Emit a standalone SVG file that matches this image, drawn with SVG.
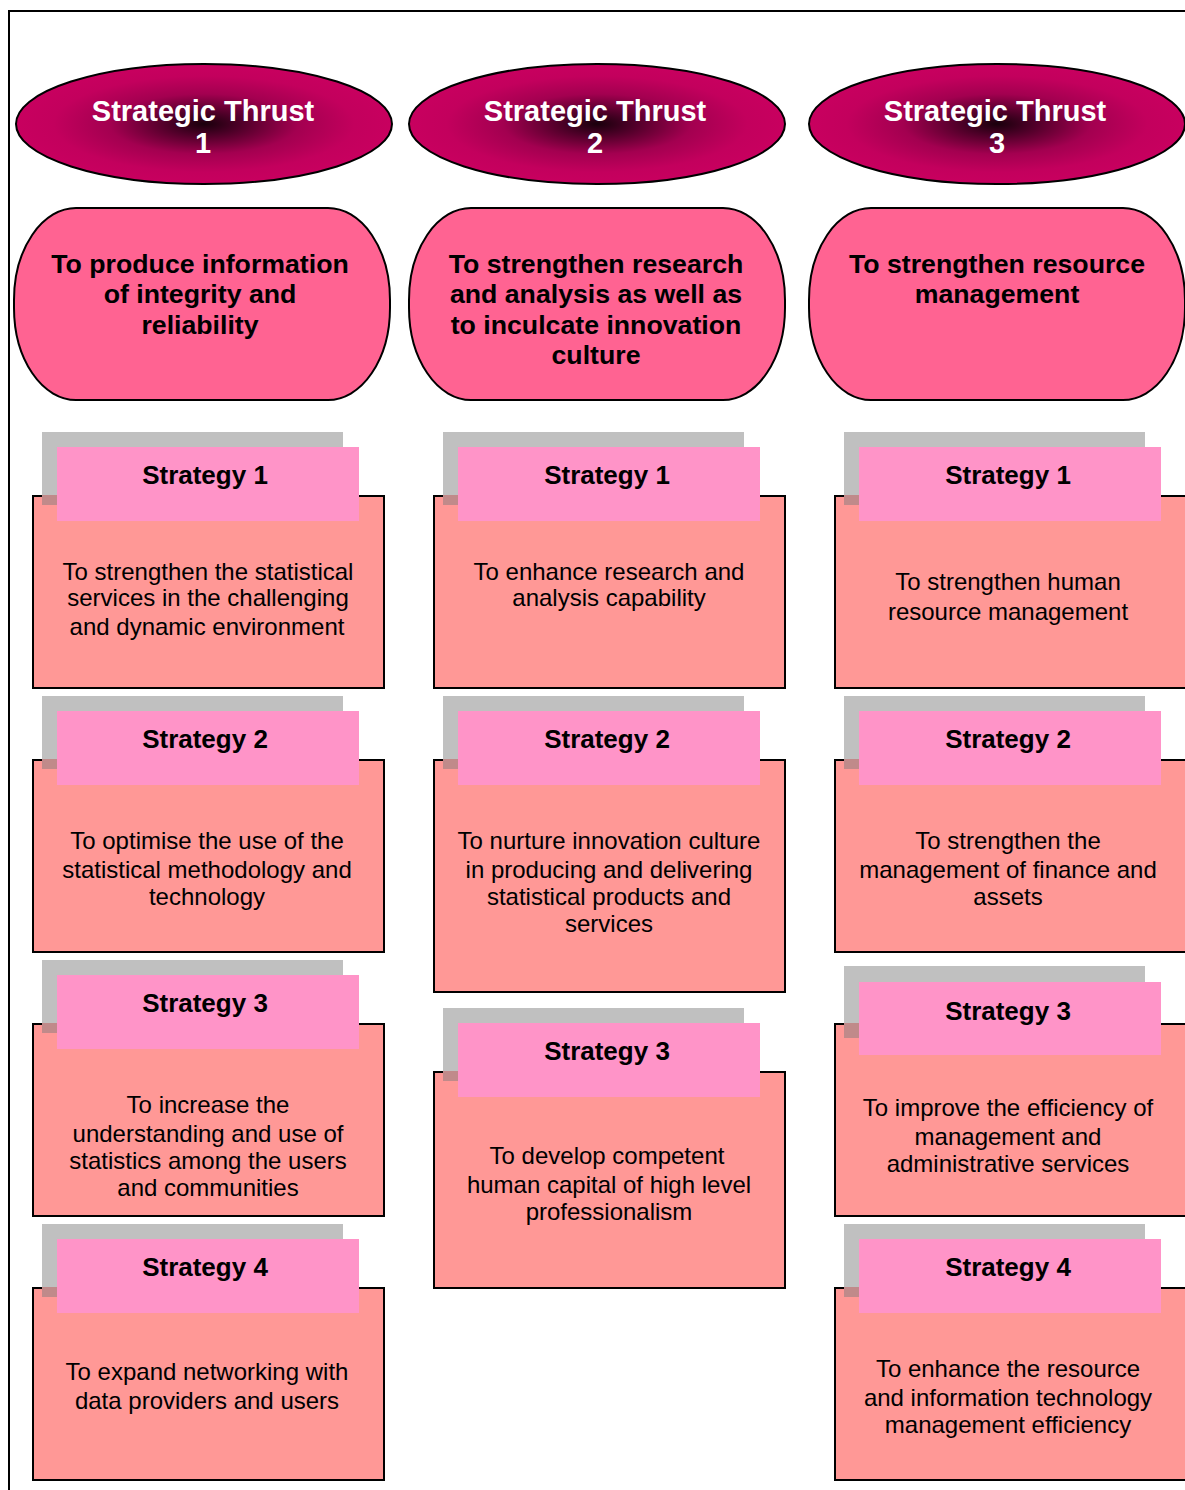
<svg xmlns="http://www.w3.org/2000/svg" width="1185" height="1490" viewBox="0 0 1185 1490">
<defs>
<radialGradient id="thr" cx="0.5" cy="0.5" r="0.5">
<stop offset="0" stop-color="#1a000c"/>
<stop offset="0.18" stop-color="#4a0026"/>
<stop offset="0.5" stop-color="#a30050"/>
<stop offset="0.8" stop-color="#c3005d"/>
<stop offset="1" stop-color="#c8005f"/>
</radialGradient>
<style>
.thrust{fill:url(#thr);stroke:#000;stroke-width:2}
.tt{font-family:"Liberation Sans",Arial,sans-serif;font-weight:bold;font-size:29px;fill:#fff;text-anchor:middle}
.goal{fill:#ff6392;stroke:#000;stroke-width:2}
.gt{font-family:"Liberation Sans",Arial,sans-serif;font-weight:bold;font-size:26.7px;fill:#000;text-anchor:middle}
.main{fill:#ff9896;stroke:#000;stroke-width:2}
.shadow{fill:#c0c0c0}
.ovl{fill:#c08a8a}
.head{fill:#ff94c8}
.ht{font-family:"Liberation Sans",Arial,sans-serif;font-weight:bold;font-size:26px;fill:#000;text-anchor:middle}
.bt{font-family:"Liberation Sans",Arial,sans-serif;font-size:24px;fill:#000;text-anchor:middle}
.frame{fill:none;stroke:#000;stroke-width:2}
</style>
</defs>
<rect width="1185" height="1490" fill="#fff"/>
<path class="frame" d="M9,1490 V11 H1186"/>

<g id="thrust1"><ellipse class="thrust" cx="204" cy="124" rx="188" ry="60"/>
<text class="tt" x="203" y="121">Strategic Thrust</text><text class="tt" x="203" y="153">1</text></g>
<g id="thrust2"><ellipse class="thrust" cx="597" cy="124" rx="188" ry="60"/>
<text class="tt" x="595" y="121">Strategic Thrust</text><text class="tt" x="595" y="153">2</text></g>
<g id="thrust3"><ellipse class="thrust" cx="997" cy="124" rx="188" ry="60"/>
<text class="tt" x="995" y="121">Strategic Thrust</text><text class="tt" x="997" y="153">3</text></g>

<g id="goal1"><rect class="goal" x="14" y="208" width="376" height="192" rx="62" ry="92"/>
<text class="gt" x="200" y="273">To produce information</text><text class="gt" x="200" y="303">of integrity and</text><text class="gt" x="200" y="334">reliability</text></g>
<g id="goal2"><rect class="goal" x="409" y="208" width="376" height="192" rx="62" ry="92"/>
<text class="gt" x="596" y="273">To strengthen research</text><text class="gt" x="596" y="303">and analysis as well as</text><text class="gt" x="596" y="334">to inculcate innovation</text><text class="gt" x="596" y="364">culture</text></g>
<g id="goal3"><rect class="goal" x="809" y="208" width="376" height="192" rx="62" ry="92"/>
<text class="gt" x="997" y="273">To strengthen resource</text><text class="gt" x="997" y="303">management</text></g>

<!-- Column 1 -->
<g id="c1s1"><rect class="main" x="33" y="496" width="351" height="192"/><rect class="shadow" x="42" y="432" width="301" height="73"/><rect class="ovl" x="42" y="495" width="15" height="10"/><rect class="head" x="57" y="447" width="302" height="74"/>
<text class="ht" x="205" y="484">Strategy 1</text>
<text class="bt" x="208" y="580">To strengthen the statistical</text><text class="bt" x="208" y="606">services in the challenging</text><text class="bt" x="207" y="635">and dynamic environment</text></g>
<g id="c1s2"><rect class="main" x="33" y="760" width="351" height="192"/><rect class="shadow" x="42" y="696" width="301" height="73"/><rect class="ovl" x="42" y="759" width="15" height="10"/><rect class="head" x="57" y="711" width="302" height="74"/>
<text class="ht" x="205" y="748">Strategy 2</text>
<text class="bt" x="207" y="849">To optimise the use of the</text><text class="bt" x="207" y="878">statistical methodology and</text><text class="bt" x="207" y="905">technology</text></g>
<g id="c1s3"><rect class="main" x="33" y="1024" width="351" height="192"/><rect class="shadow" x="42" y="960" width="301" height="73"/><rect class="ovl" x="42" y="1023" width="15" height="10"/><rect class="head" x="57" y="975" width="302" height="74"/>
<text class="ht" x="205" y="1012">Strategy 3</text>
<text class="bt" x="208" y="1113">To increase the</text><text class="bt" x="208" y="1142">understanding and use of</text><text class="bt" x="208" y="1169">statistics among the users</text><text class="bt" x="208" y="1196">and communities</text></g>
<g id="c1s4"><rect class="main" x="33" y="1288" width="351" height="192"/><rect class="shadow" x="42" y="1224" width="301" height="73"/><rect class="ovl" x="42" y="1287" width="15" height="10"/><rect class="head" x="57" y="1239" width="302" height="74"/>
<text class="ht" x="205" y="1276">Strategy 4</text>
<text class="bt" x="207" y="1380">To expand networking with</text><text class="bt" x="207" y="1409">data providers and users</text></g>

<!-- Column 2 -->
<g id="c2s1"><rect class="main" x="434" y="496" width="351" height="192"/><rect class="shadow" x="443" y="432" width="301" height="73"/><rect class="ovl" x="443" y="495" width="15" height="10"/><rect class="head" x="458" y="447" width="302" height="74"/>
<text class="ht" x="607" y="484">Strategy 1</text>
<text class="bt" x="609" y="580">To enhance research and</text><text class="bt" x="609" y="606">analysis capability</text></g>
<g id="c2s2"><rect class="main" x="434" y="760" width="351" height="232"/><rect class="shadow" x="443" y="696" width="301" height="73"/><rect class="ovl" x="443" y="759" width="15" height="10"/><rect class="head" x="458" y="711" width="302" height="74"/>
<text class="ht" x="607" y="748">Strategy 2</text>
<text class="bt" x="609" y="849">To nurture innovation culture</text><text class="bt" x="609" y="878">in producing and delivering</text><text class="bt" x="609" y="905">statistical products and</text><text class="bt" x="609" y="932">services</text></g>
<g id="c2s3"><rect class="main" x="434" y="1072" width="351" height="216"/><rect class="shadow" x="443" y="1008" width="301" height="73"/><rect class="ovl" x="443" y="1071" width="15" height="10"/><rect class="head" x="458" y="1023" width="302" height="74"/>
<text class="ht" x="607" y="1060">Strategy 3</text>
<text class="bt" x="607" y="1164">To develop competent</text><text class="bt" x="609" y="1193">human capital of high level</text><text class="bt" x="609" y="1220">professionalism</text></g>

<!-- Column 3 -->
<g id="c3s1"><rect class="main" x="835" y="496" width="352" height="192"/><rect class="shadow" x="844" y="432" width="301" height="73"/><rect class="ovl" x="844" y="495" width="15" height="10"/><rect class="head" x="859" y="447" width="302" height="74"/>
<text class="ht" x="1008" y="484">Strategy 1</text>
<text class="bt" x="1008" y="590">To strengthen human</text><text class="bt" x="1008" y="620">resource management</text></g>
<g id="c3s2"><rect class="main" x="835" y="760" width="352" height="192"/><rect class="shadow" x="844" y="696" width="301" height="73"/><rect class="ovl" x="844" y="759" width="15" height="10"/><rect class="head" x="859" y="711" width="302" height="74"/>
<text class="ht" x="1008" y="748">Strategy 2</text>
<text class="bt" x="1008" y="849">To strengthen the</text><text class="bt" x="1008" y="878">management of finance and</text><text class="bt" x="1008" y="905">assets</text></g>
<g id="c3s3"><rect class="main" x="835" y="1024" width="352" height="192"/><rect class="shadow" x="844" y="966" width="301" height="72"/><rect class="ovl" x="844" y="1023" width="15" height="15"/><rect class="head" x="859" y="982" width="302" height="73"/>
<text class="ht" x="1008" y="1020">Strategy 3</text>
<text class="bt" x="1008" y="1116">To improve the efficiency of</text><text class="bt" x="1008" y="1145">management and</text><text class="bt" x="1008" y="1172">administrative services</text></g>
<g id="c3s4"><rect class="main" x="835" y="1288" width="352" height="192"/><rect class="shadow" x="844" y="1224" width="301" height="73"/><rect class="ovl" x="844" y="1287" width="15" height="10"/><rect class="head" x="859" y="1239" width="302" height="74"/>
<text class="ht" x="1008" y="1276">Strategy 4</text>
<text class="bt" x="1008" y="1377">To enhance the resource</text><text class="bt" x="1008" y="1406">and information technology</text><text class="bt" x="1008" y="1433">management efficiency</text></g>

<g id="connectors"></g>
</svg>
